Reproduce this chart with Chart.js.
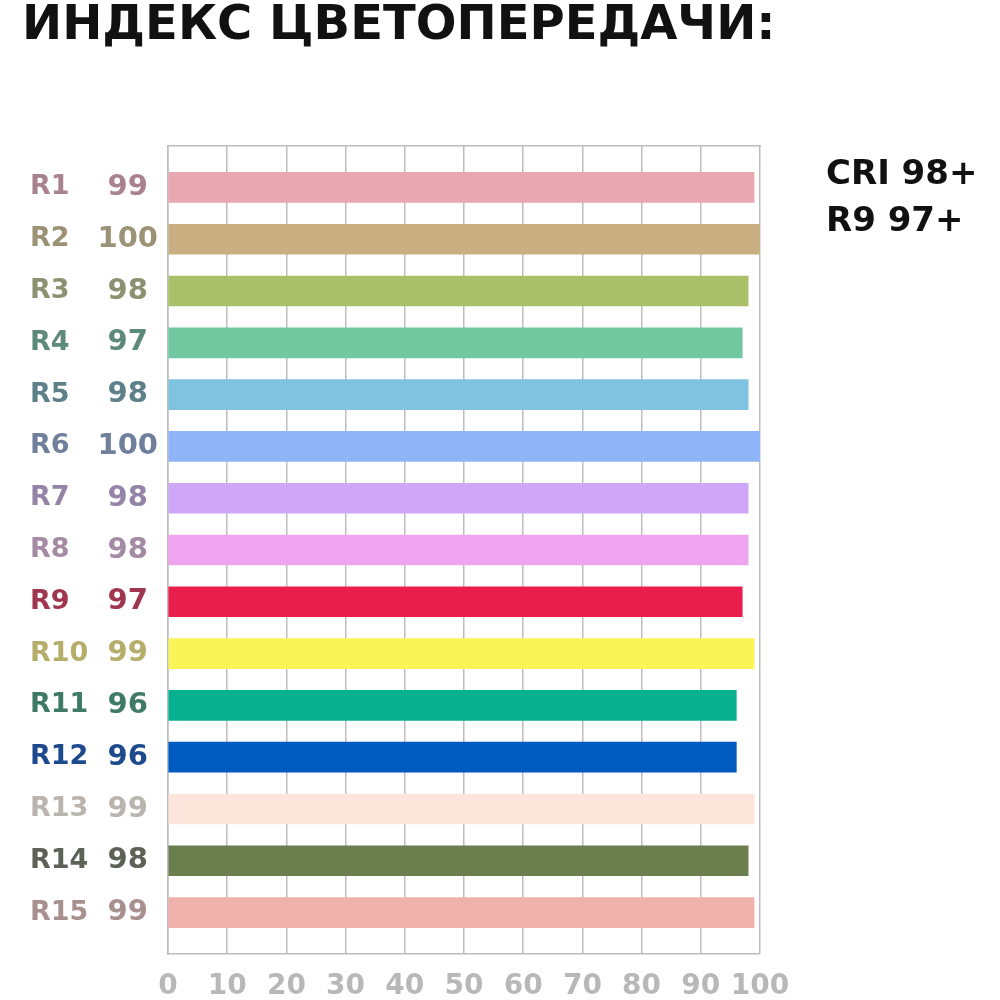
<!DOCTYPE html>
<html>
<head>
<meta charset="utf-8">
<script src="https://cdn.jsdelivr.net/npm/chart.js@4"></script>
<style>
  html, body { margin: 0; padding: 0; background: #fff; overflow: hidden; }
  #wrap { position: absolute; left: 0; top: 0; width: 1000px; height: 1000px; }
  #title { position: absolute; left: 22px; top: -6px; font-family: "DejaVu Sans", sans-serif; font-weight: bold; font-size: 48px; color: #111; white-space: nowrap; letter-spacing: 0px; }
  #note { position: absolute; left: 826px; top: 149px; font-family: "DejaVu Sans", sans-serif; font-weight: 600; font-size: 34px; line-height: 47px; color: #111; white-space: nowrap; }
</style>
</head>
<body>
<div id="wrap"><canvas id="c" width="1000" height="1000"></canvas></div>
<div id="title">ИНДЕКС ЦВЕТОПЕРЕДАЧИ:</div>
<div id="note">CRI 98+<br>R9 97+</div>
<script>
const categories = ['R1','R2','R3','R4','R5','R6','R7','R8','R9','R10','R11','R12','R13','R14','R15'];
const values = [99,100,98,97,98,100,98,98,97,99,96,96,99,98,99];
const barColors = ['#e8a7b1','#c9ae82','#aac068','#72c8a0','#80c3e0','#8fb5f8','#cfa7f8','#eea4ee','#e91e4c','#fbf458','#07b08e','#005bc1','#fce6dc','#6a7e4e','#efb2ab'];
const labelColors = ['#a8838f','#9c9377','#8c9271','#5e8a7c','#5e8088','#6f7f9c','#9484a8','#a58aa4','#a0354f','#b5ae6a','#3e7a64','#1d4a8c','#bab4af','#5c6356','#a8908f'];
const xTicks = [0,10,20,30,40,50,60,70,80,90,100];

const gridGray = '#bdbdbd';
const indexTicks = (scale) => { scale.ticks = categories.map((_, i) => ({ value: i })); };

new Chart(document.getElementById('c'), {
  type: 'bar',
  data: {
    datasets: [{
      data: values.map((v, i) => ({ x: v, y: i })),
      backgroundColor: barColors,
      borderWidth: 0,
      barThickness: 30,
      xAxisID: 'x',
      yAxisID: 'y'
    }]
  },
  options: {
    indexAxis: 'y',
    responsive: false,
    animation: false,
    devicePixelRatio: 1,
    layout: { padding: { left: 30, right: 240, top: 146, bottom: 0 } },
    plugins: { legend: { display: false }, tooltip: { enabled: false }, title: { display: false } },
    scales: {
      x: {
        type: 'linear', position: 'bottom', min: 0, max: 100,
        afterBuildTicks: (s) => { s.ticks = xTicks.map(v => ({ value: v })); },
        afterFit: (s) => { s.height = 46; },
        grid: { color: gridGray, lineWidth: 1.5, drawTicks: false },
        border: { display: true, color: gridGray, width: 1.5 },
        ticks: { color: '#b8b8b8', padding: 16, maxRotation: 0, minRotation: 0, autoSkip: false,
                 font: { family: 'DejaVu Sans', size: 28, weight: 'bold' } }
      },
      xTop: {
        type: 'linear', position: 'top', min: 0, max: 100,
        grid: { display: false, drawTicks: false },
        border: { display: true, color: gridGray, width: 1.5 },
        ticks: { display: false }
      },
      y: {
        type: 'linear', position: 'left', min: -0.8, max: 14.8, reverse: true,
        offset: false, weight: 1,
        afterBuildTicks: indexTicks,
        afterFit: (s) => { s.width = 68; },
        grid: { display: false, drawTicks: false, offset: false },
        border: { display: true, color: gridGray, width: 1.5 },
        ticks: {
          crossAlign: 'center', padding: 10,
          color: (ctx) => labelColors[ctx.index],
          font: { family: 'DejaVu Sans', size: 29, weight: 'bold' },
          callback: (v, i) => String(values[i])
        }
      },
      yNames: {
        type: 'linear', position: 'left', min: -0.8, max: 14.8, reverse: true,
        offset: false, weight: 2,
        afterBuildTicks: indexTicks,
        afterFit: (s) => { s.width = 70; },
        grid: { display: false, drawTicks: false },
        border: { display: false },
        ticks: {
          crossAlign: 'far', padding: 0,
          color: (ctx) => labelColors[ctx.index],
          font: { family: 'DejaVu Sans', size: 27, weight: '600' },
          callback: (v, i) => categories[i]
        }
      }
    }
  }
});
</script>
</body>
</html>
